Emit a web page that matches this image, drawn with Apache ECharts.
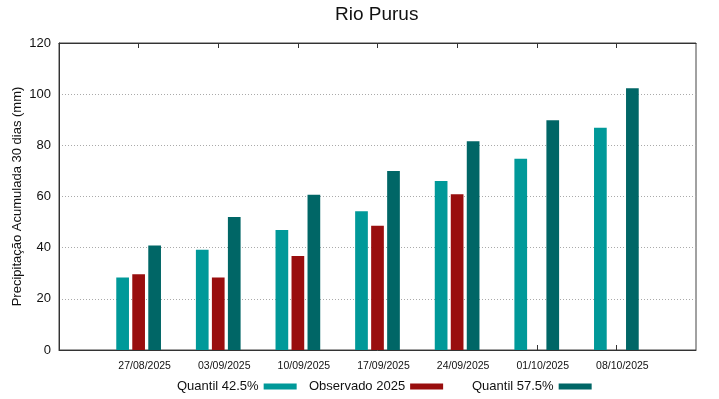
<!DOCTYPE html>
<html>
<head>
<meta charset="utf-8">
<script src="https://cdn.jsdelivr.net/npm/echarts@6/dist/echarts.min.js"></script>
<style>
html, body { margin: 0; padding: 0; background: #fff; }
#chart { width: 719px; height: 399px; }
</style>
</head>
<body>
<div id="chart"></div>
<script>
// datas (blank slot at each end keeps the same spacing as the original)
var datas = ['', '27/08/2025', '03/09/2025', '10/09/2025', '17/09/2025', '24/09/2025', '01/10/2025', '08/10/2025', ''];
var q425 = ['-', 28.3, 39.2, 46.9, 54.2, 66.1, 74.8, 86.9, '-'];
var obs2025 = ['-', 29.6, 28.3, 36.7, 48.6, 60.9, '-', '-', '-'];
var q575 = ['-', 40.8, 52.0, 60.7, 70.0, 81.6, 89.8, 102.3, '-'];
var yTicks = [0, 20, 40, 60, 80, 100, 120];

var fonte = 'Liberation Sans, Arial, sans-serif';

function tickSo(i) {
	return i > 0 && i < datas.length - 1;
}

var myChart = echarts.init(document.getElementById('chart'));
var option = {
	animation: false,
	textStyle: { fontFamily: fonte },
	title: {
		text: 'Rio Purus',
		left: 335,
		top: 5,
		padding: 0,
		textStyle: { fontSize: 19, fontWeight: 'normal', color: '#111', fontFamily: fonte }
	},
	legend: [
		{ data: ['Quantil 42.5%'], left: 177, top: 380 },
		{ data: ['Observado 2025'], left: 309, top: 380 },
		{ data: ['Quantil 57.5%'], left: 472, top: 380 }
	].map(function (l) {
		l.align = 'right';
		l.padding = 0;
		l.icon = 'rect';
		l.itemWidth = 33;
		l.itemHeight = 6;
		l.selectedMode = false;
		l.textStyle = { fontSize: 13, color: '#111', fontFamily: fonte };
		return l;
	}),
	grid: {
		left: 59, right: 23, top: 43, bottom: 49,
		outerBoundsMode: 'none',
		containLabel: false,
		show: true, borderColor: '#444', borderWidth: 1
	},
	xAxis: [{
		type: 'category',
		data: datas,
		boundaryGap: false,
		axisLine: { lineStyle: { color: '#333' } },
		axisTick: { inside: true, length: 5, interval: tickSo, lineStyle: { color: '#333' } },
		axisLabel: { fontSize: 10.5, color: '#111', margin: 11, padding: [0, 0, 0, 12], interval: 0 },
		splitLine: { show: false }
	}, {
		type: 'category',
		position: 'top',
		data: datas,
		boundaryGap: false,
		axisLine: { lineStyle: { color: '#333' } },
		axisTick: { inside: true, length: 5, interval: tickSo, lineStyle: { color: '#333' } },
		axisLabel: { show: false }
	}],
	yAxis: {
		type: 'value',
		min: yTicks[0],
		max: yTicks[yTicks.length - 1],
		interval: 20,
		name: 'Precipitação Acumulada 30 dias (mm)',
		nameLocation: 'middle',
		nameGap: 35,
		nameMoveOverlap: false,
		nameTextStyle: { fontSize: 13, color: '#111', fontFamily: fonte },
		axisLine: { show: true, lineStyle: { color: '#333' } },
		axisTick: { show: false },
		axisLabel: { fontSize: 13, color: '#111', margin: 8 },
		splitLine: { lineStyle: { color: '#aaa', type: [1, 2], width: 1 } }
	},
	series: [{
		name: 'Quantil 42.5%',
		type: 'bar',
		data: q425,
		barWidth: 12.7,
		barGap: '26%',
		itemStyle: { color: '#009999' }
	}, {
		name: 'Observado 2025',
		type: 'bar',
		data: obs2025,
		barWidth: 12.7,
		barGap: '26%',
		itemStyle: { color: '#990e0e' }
	}, {
		name: 'Quantil 57.5%',
		type: 'bar',
		data: q575,
		barWidth: 12.7,
		barGap: '26%',
		itemStyle: { color: '#006666' }
	}]
};
myChart.setOption(option);
</script>
</body>
</html>
